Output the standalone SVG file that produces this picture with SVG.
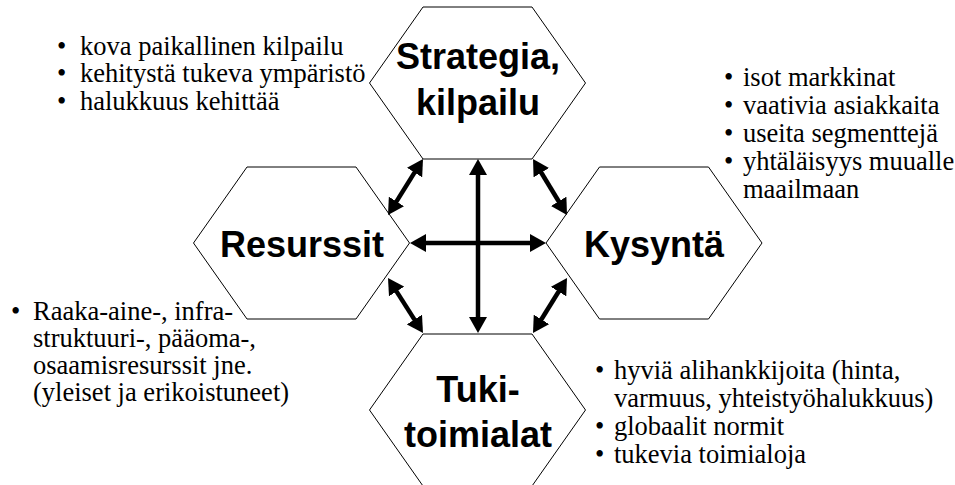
<svg xmlns="http://www.w3.org/2000/svg" xmlns:xlink="http://www.w3.org/1999/xlink" width="955" height="485" viewBox="0 0 955 485">
  <style>
    .hex { fill: #ffffff; stroke: #000000; stroke-width: 1; }
    .label { font-family: "Liberation Sans", Arial, sans-serif; font-weight: bold; font-size: 36px; fill: #000000; text-anchor: middle; }
    .note { font-family: "Liberation Serif", "Times New Roman", serif; font-size: 26.5px; fill: #000000; }
    .link { stroke: #000000; stroke-width: 4.5; fill: none; marker-start: url(#head); marker-end: url(#head); }
  </style>
  <defs>
    <!-- regular hexagon centred on the origin -->
    <polygon id="hexShape" points="-54.5,-76 54.5,-76 108,0 54.5,76 -54.5,76 -108,0"/>
    <marker id="head" markerUnits="userSpaceOnUse" markerWidth="16" markerHeight="18" viewBox="0 0 16 18" refX="4" refY="9" orient="auto-start-reverse">
      <path d="M0,0 L16,9 L0,18 Z" fill="#000000"/>
    </marker>
  </defs>

  <rect x="0" y="0" width="955" height="485" fill="#ffffff"/>

  <!-- Strategia, kilpailu -->
  <g id="strategia">
    <use xlink:href="#hexShape" href="#hexShape" class="hex" x="477.5" y="83"/>
    <text class="label" x="478" y="69">Strategia,</text>
    <text class="label" x="478" y="115">kilpailu</text>
  </g>

  <!-- Resurssit -->
  <g id="resurssit">
    <use xlink:href="#hexShape" href="#hexShape" class="hex" x="301.5" y="243"/>
    <text class="label" x="302" y="257">Resurssit</text>
  </g>

  <!-- Kysyntä -->
  <g id="kysynta">
    <use xlink:href="#hexShape" href="#hexShape" class="hex" x="654" y="243"/>
    <text class="label" x="654" y="257">Kysyntä</text>
  </g>

  <!-- Tukitoimialat -->
  <g id="tukitoimialat">
    <use xlink:href="#hexShape" href="#hexShape" class="hex" x="477.5" y="410"/>
    <text class="label" x="478" y="402">Tuki-</text>
    <text class="label" x="478" y="447">toimialat</text>
  </g>

  <!-- two-way arrows between the four corners -->
  <g id="connectors">
    <line class="link" x1="478" y1="171" x2="478" y2="321"/>
    <line class="link" x1="422" y1="243" x2="534" y2="243"/>
    <line class="link" x1="416.64" y1="169.18" x2="394.36" y2="204.82"/>
    <line class="link" x1="539.23" y1="169.26" x2="560.77" y2="204.74"/>
    <line class="link" x1="394.44" y1="288.12" x2="416.56" y2="322.88"/>
    <line class="link" x1="560.69" y1="288.21" x2="539.31" y2="322.79"/>
  </g>

  <!-- bullet lists -->
  <g id="notes-strategia">
    <text class="note" x="57" y="55">•<tspan x="80">kova paikallinen kilpailu</tspan></text>
    <text class="note" x="57" y="82">•<tspan x="80">kehitystä tukeva ympäristö</tspan></text>
    <text class="note" x="57" y="110">•<tspan x="80">halukkuus kehittää</tspan></text>
  </g>

  <g id="notes-kysynta">
    <text class="note" x="724" y="86">•<tspan x="743">isot markkinat</tspan></text>
    <text class="note" x="724" y="114">•<tspan x="743">vaativia asiakkaita</tspan></text>
    <text class="note" x="724" y="142">•<tspan x="743">useita segmenttejä</tspan></text>
    <text class="note" x="724" y="170">•<tspan x="743">yhtäläisyys muualle</tspan></text>
    <text class="note" x="743" y="198">maailmaan</text>
  </g>

  <g id="notes-resurssit">
    <text class="note" x="11" y="320">•<tspan x="33">Raaka-aine-, infra-</tspan></text>
    <text class="note" x="33" y="347">struktuuri-, pääoma-,</text>
    <text class="note" x="33" y="374">osaamisresurssit jne.</text>
    <text class="note" x="33" y="401">(yleiset ja erikoistuneet)</text>
  </g>

  <g id="notes-tukitoimialat">
    <text class="note" x="595" y="379">•<tspan x="614">hyviä alihankkijoita (hinta,</tspan></text>
    <text class="note" x="614" y="407">varmuus, yhteistyöhalukkuus)</text>
    <text class="note" x="595" y="435">•<tspan x="614">globaalit normit</tspan></text>
    <text class="note" x="595" y="463">•<tspan x="614">tukevia toimialoja</tspan></text>
  </g>
</svg>
